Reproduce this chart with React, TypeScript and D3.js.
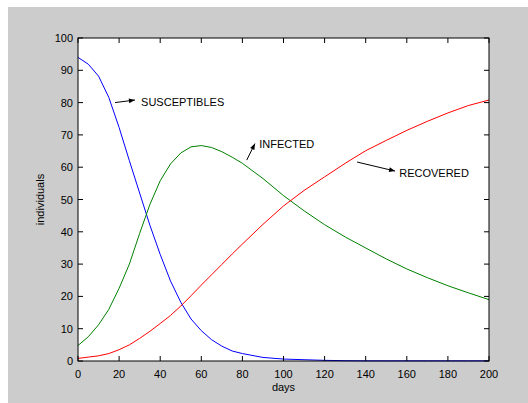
import React from "react";
import * as d3 from "d3";

const days = [0, 5, 10, 15, 20, 25, 30, 35, 40, 45, 50, 55, 60, 65, 70, 75, 80, 90, 100, 110, 120, 130, 140, 150, 160, 170, 180, 190, 200];
const susceptibles = [94, 91.9, 88.2, 81.6, 72.3, 62, 52, 42, 33, 24.8, 18.2, 13, 9.4, 6.6, 4.6, 3.1, 2.3, 1.1, 0.6, 0.4, 0.2, 0.1, 0.05, 0.05, 0.05, 0.05, 0.05, 0.05, 0.05];
const infected = [4.8, 7.5, 11.2, 16, 22.5, 30, 39.5, 48.5, 55.8, 61, 64.4, 66.3, 66.7, 66.1, 64.8, 63.1, 61.2, 56.5, 51.2, 46.5, 42.2, 38.4, 35, 31.6, 28.5, 25.8, 23.3, 21.1, 19];
const recovered = [0.8, 1.2, 1.6, 2.3, 3.5, 5, 7, 9.2, 11.6, 14.1, 17, 20.2, 23.5, 26.7, 29.9, 33.1, 36.2, 42.3, 48, 52.8, 57, 61.2, 65.1, 68.3, 71.4, 74.2, 76.8, 79.1, 80.8];

const xTicks = [0, 20, 40, 60, 80, 100, 120, 140, 160, 180, 200];
const yTicks = [0, 10, 20, 30, 40, 50, 60, 70, 80, 90, 100];

const seriesNames = ["SUSCEPTIBLES", "INFECTED", "RECOVERED"];
const seriesColors = ["#0000ff", "#008000", "#ff0000"];
// annotation: text position and arrow (from -> to) in data coordinates
const labelPos = [
  [30.7, 79],
  [88.2, 65.9],
  [156.3, 57.1],
];
const arrowFrom = [
  [18, 80],
  [82.1, 62.2],
  [135.8, 61.6],
];
const arrowTo = [
  [27.7, 80.8],
  [86.1, 67.3],
  [154.3, 58.8],
];

const W = 528;
const H = 403;
const left = 78;
const right = 489;
const top = 38;
const bottom = 361;

export default function App() {
  const x = d3.scaleLinear().domain([0, 200]).range([left, right]);
  const y = d3.scaleLinear().domain([0, 100]).range([bottom, top]);
  const line = d3
    .line<number>()
    .x((_, i) => x(days[i]))
    .y((v) => y(v));
  const allSeries = [susceptibles, infected, recovered];
  const font = "'Liberation Sans', Arial, Helvetica, sans-serif";
  const tl = 5;

  return (
    <svg
      width={W}
      height={H}
      style={{ position: "absolute", left: 0, top: 0, background: "#ffffff" }}
      fontFamily={font}
    >
      <defs>
        <marker id="ah" viewBox="0 0 10 10" refX="10" refY="5" markerWidth="8" markerHeight="6" orient="auto" markerUnits="userSpaceOnUse">
          <path d="M0,1 L10,5 L0,9 z" fill="#000" />
        </marker>
      </defs>
      <rect x={8} y={7} width={W - 8} height={H - 7} fill="#cccccc" />
      <rect x={left} y={top} width={right - left} height={bottom - top} fill="#ffffff" />
      <g>
        {allSeries.map((s, i) => (
          <path key={i} d={line(s) || ""} fill="none" stroke={seriesColors[i]} strokeWidth={1} />
        ))}
      </g>
      {xTicks.map((t) => (
        <g key={"x" + t}>
          <line x1={x(t)} x2={x(t)} y1={bottom} y2={bottom - tl} stroke="#000" />
          <line x1={x(t)} x2={x(t)} y1={top} y2={top + tl} stroke="#000" />
          <text x={x(t)} y={378} fontSize={11} textAnchor="middle" fill="#000">
            {t}
          </text>
        </g>
      ))}
      {yTicks.map((t) => (
        <g key={"y" + t}>
          <line x1={left} x2={left + tl} y1={y(t)} y2={y(t)} stroke="#000" />
          <line x1={right} x2={right - tl} y1={y(t)} y2={y(t)} stroke="#000" />
          <text x={73} y={y(t) + 4} fontSize={11} textAnchor="end" fill="#000">
            {t}
          </text>
        </g>
      ))}
      <rect x={left} y={top} width={right - left} height={bottom - top} fill="none" stroke="#000" strokeWidth={1} />
      <text x={(left + right) / 2} y={391} fontSize={11} textAnchor="middle" fill="#000">
        days
      </text>
      <text transform={`translate(44,${(top + bottom) / 2}) rotate(-90)`} fontSize={11} textAnchor="middle" fill="#000">
        individuals
      </text>
      {seriesNames.map((n, i) => (
        <g key={n}>
          <line
            x1={x(arrowFrom[i][0])}
            y1={y(arrowFrom[i][1])}
            x2={x(arrowTo[i][0])}
            y2={y(arrowTo[i][1])}
            stroke="#000"
            strokeWidth={1}
            markerEnd="url(#ah)"
          />
          <text x={x(labelPos[i][0])} y={y(labelPos[i][1])} fontSize={11} fill="#000">
            {n}
          </text>
        </g>
      ))}
    </svg>
  );
}
